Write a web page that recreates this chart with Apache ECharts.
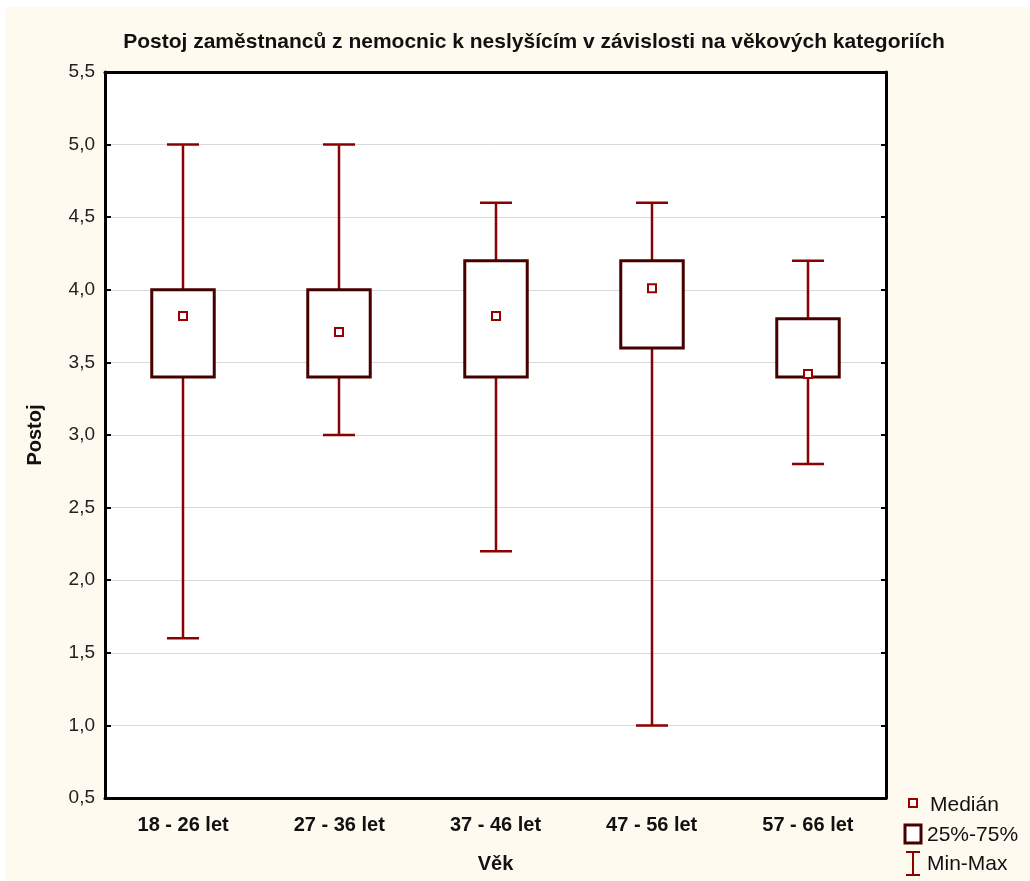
<!DOCTYPE html>
<html><head><meta charset="utf-8">
<script src="https://cdn.jsdelivr.net/npm/echarts@6/dist/echarts.min.js"></script>
<style>html,body{margin:0;padding:0;background:#fff}#c{width:1030px;height:881px}</style>
</head><body><div id="c"></div>
<script>
const categories = ['18 - 26 let', '27 - 36 let', '37 - 46 let', '47 - 56 let', '57 - 66 let'];
const minValues = [1.6, 3.0, 2.2, 1.0, 2.8];
const q1Values = [3.4, 3.4, 3.4, 3.6, 3.4];
const medianValues = [3.82, 3.71, 3.82, 4.01, 3.42];
const q3Values = [4.0, 4.0, 4.2, 4.2, 3.8];
const maxValues = [5.0, 5.0, 4.6, 4.6, 4.2];
const yTicks = [0.5, 5.5, 0.5]; // min, max, interval

const data = categories.map((c, i) => [i, minValues[i], q1Values[i], medianValues[i], q3Values[i], maxValues[i]]);

const chart = echarts.init(document.getElementById('c'), null, {renderer: 'canvas'});
const FONT = 'Liberation Sans, Arial, sans-serif';
const WHISK = '#8b0000';
const BOX = '#470000';

function renderItem(params, api) {
  const x = api.value(0);
  const pMin = api.coord([x, api.value(1)]);
  const pQ1 = api.coord([x, api.value(2)]);
  const pMed = api.coord([x, api.value(3)]);
  const pQ3 = api.coord([x, api.value(4)]);
  const pMax = api.coord([x, api.value(5)]);
  const band = api.size([1, 0])[0];
  const bw = band * 0.4;
  const cw = band * 0.205;
  const cx = Math.round(pMed[0]);
  const ls = {stroke: WHISK, lineWidth: 2.5};
  return {
    type: 'group',
    children: [
      {type: 'line', shape: {x1: cx, y1: pMax[1], x2: cx, y2: pQ3[1]}, style: ls},
      {type: 'line', shape: {x1: cx, y1: pQ1[1], x2: cx, y2: pMin[1]}, style: ls},
      {type: 'line', shape: {x1: cx - cw / 2, y1: pMax[1], x2: cx + cw / 2, y2: pMax[1]}, style: ls},
      {type: 'line', shape: {x1: cx - cw / 2, y1: pMin[1], x2: cx + cw / 2, y2: pMin[1]}, style: ls},
      {type: 'rect', shape: {x: cx - bw / 2, y: pQ3[1], width: bw, height: pQ1[1] - pQ3[1]},
        style: {fill: '#fff', stroke: BOX, lineWidth: 3}},
      {type: 'rect', shape: {x: cx - 4, y: pMed[1] - 4, width: 8, height: 8},
        style: {fill: '#fff', stroke: '#990000', lineWidth: 2}}
    ]
  };
}

const lx = 905, ly = 805;
chart.setOption({
  backgroundColor: '#fff',
  animation: false,
  title: {
    text: 'Postoj zaměstnanců z nemocnic k neslyšícím v závislosti na věkových kategoriích',
    left: 529, top: 27, textAlign: 'center',
    textStyle: {fontFamily: FONT, fontWeight: 'bold', fontSize: 21, color: '#111'}
  },
  graphic: [
    {type: 'rect', z: -10, silent: true, shape: {x: 5, y: 7, width: 1025, height: 874}, style: {fill: '#fefaef'}},
    {type: 'rect', z: -9, silent: true, shape: {x: 105, y: 72, width: 781, height: 726}, style: {fill: '#fff'}},
    {type: 'rect', shape: {x: lx + 4, y: ly - 6, width: 8, height: 8}, style: {fill: '#fff', stroke: '#990000', lineWidth: 2}},
    {type: 'text', style: {x: lx + 25, y: ly, text: 'Medián', font: '21px ' + FONT, fill: '#111', verticalAlign: 'middle'}},
    {type: 'rect', shape: {x: lx, y: ly + 20, width: 16, height: 18}, style: {fill: '#fff', stroke: BOX, lineWidth: 3}},
    {type: 'text', style: {x: lx + 22, y: ly + 30, text: '25%-75%', font: '21px ' + FONT, fill: '#111', verticalAlign: 'middle'}},
    {type: 'line', shape: {x1: lx + 8, y1: ly + 46, x2: lx + 8, y2: ly + 70}, style: {stroke: WHISK, lineWidth: 2}},
    {type: 'line', shape: {x1: lx + 1, y1: ly + 47, x2: lx + 15, y2: ly + 47}, style: {stroke: WHISK, lineWidth: 2}},
    {type: 'line', shape: {x1: lx + 1, y1: ly + 70, x2: lx + 15, y2: ly + 70}, style: {stroke: WHISK, lineWidth: 2}},
    {type: 'text', style: {x: lx + 22, y: ly + 59, text: 'Min-Max', font: '21px ' + FONT, fill: '#111', verticalAlign: 'middle'}}
  ],
  grid: {left: 105, top: 72, right: 144, bottom: 83, containLabel: false},
  xAxis: [{
    type: 'category', data: categories, position: 'bottom',
    name: 'Věk', nameLocation: 'middle', nameGap: 56,
    nameTextStyle: {fontFamily: FONT, fontWeight: 'bold', fontSize: 20, color: '#111'},
    axisLine: {lineStyle: {color: '#000', width: 3}},
    axisTick: {inside: true, length: 6, alignWithLabel: true, lineStyle: {color: '#000', width: 2}},
    axisLabel: {fontFamily: FONT, fontWeight: 'bold', fontSize: 20, color: '#111', margin: 17},
    splitLine: {show: false}
  }, {
    type: 'category', data: categories, position: 'top',
    axisLine: {lineStyle: {color: '#000', width: 3}},
    axisTick: {inside: true, length: 5, alignWithLabel: true, lineStyle: {color: '#000', width: 2}},
    axisLabel: {show: false}, splitLine: {show: false}
  }],
  yAxis: [{
    type: 'value', min: yTicks[0], max: yTicks[1], interval: yTicks[2], position: 'left',
    name: 'Postoj', nameLocation: 'middle', nameGap: 60,
    nameTextStyle: {fontFamily: FONT, fontWeight: 'bold', fontSize: 20, color: '#111'},
    axisLine: {show: true, lineStyle: {color: '#000', width: 3}},
    axisTick: {show: true, inside: true, length: 6, lineStyle: {color: '#000', width: 2}},
    axisLabel: {fontFamily: FONT, fontSize: 19, color: '#222', margin: 10,
      formatter: v => v.toFixed(1).replace('.', ',')},
    splitLine: {show: true, lineStyle: {color: '#d9d9d9', width: 1}}
  }, {
    type: 'value', min: yTicks[0], max: yTicks[1], interval: yTicks[2], position: 'right',
    axisLine: {show: true, lineStyle: {color: '#000', width: 3}},
    axisTick: {show: true, inside: true, length: 5, lineStyle: {color: '#000', width: 2}},
    axisLabel: {show: false}, splitLine: {show: false}
  }],
  series: [{
    type: 'custom', renderItem: renderItem, data: data,
    encode: {x: 0, y: [1, 2, 3, 4, 5]}, xAxisIndex: 0, yAxisIndex: 0, clip: false
  }]
});
</script></body></html>
